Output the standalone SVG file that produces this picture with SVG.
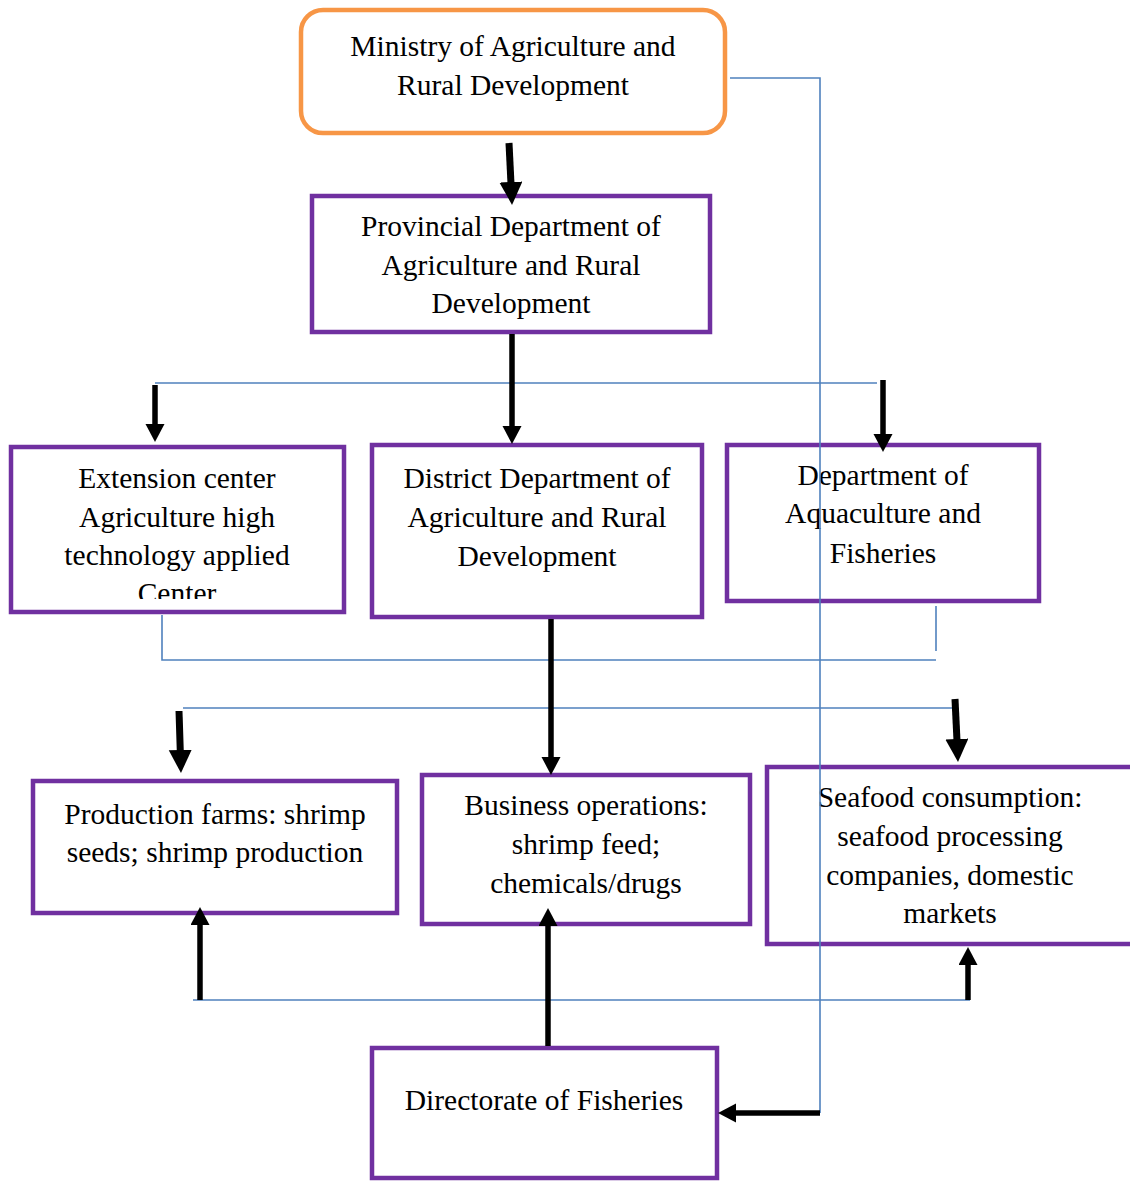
<svg xmlns="http://www.w3.org/2000/svg" width="1130" height="1182" viewBox="0 0 1130 1182">
<style>
.box{fill:none;stroke:#7030A0;stroke-width:4.5}
.min{fill:none;stroke:#F79646;stroke-width:4.5}
.t{font-family:"Liberation Serif","Times New Roman",serif;font-size:29.5px;fill:#000;text-anchor:middle}
.blue{fill:none;stroke:#4F81BD;stroke-width:1.6}
.arr{fill:none;stroke:#000;stroke-width:5.5;marker-end:url(#ah)}
.arrL{fill:none;stroke:#000;stroke-width:7;marker-end:url(#ahL)}
</style>
<defs>
<marker id="ah" markerUnits="userSpaceOnUse" markerWidth="20" markerHeight="20" refX="6" refY="9.5" orient="auto" viewBox="0 0 20 20">
<path d="M0,0 L18,9.5 L0,19 Z" fill="#000"/>
</marker>
<marker id="ahL" markerUnits="userSpaceOnUse" markerWidth="24" markerHeight="24" refX="8" refY="11.5" orient="auto" viewBox="0 0 24 24">
<path d="M0,0 L23,11.5 L0,23 Z" fill="#000"/>
</marker>
<clipPath id="cExt"><rect x="10" y="446" width="335" height="153"/></clipPath>
</defs>
<rect width="1130" height="1182" fill="#fff"/>
<g id="ministry">
<rect class="min" x="301" y="10" width="424" height="123" rx="22"/>
<text class="t" x="513" y="56">Ministry of Agriculture and</text>
<text class="t" x="513" y="95">Rural Development</text>
</g>
<g id="provincial">
<rect class="box" x="312" y="196" width="398" height="136"/>
<text class="t" x="511" y="236">Provincial Department of</text>
<text class="t" x="511" y="275">Agriculture and Rural</text>
<text class="t" x="511" y="313">Development</text>
</g>
<g id="extension">
<rect class="box" x="11" y="447" width="333" height="165"/>
<g clip-path="url(#cExt)">
<text class="t" x="177" y="488">Extension center</text>
<text class="t" x="177" y="527">Agriculture high</text>
<text class="t" x="177" y="565">technology applied</text>
<text class="t" x="177" y="603">Center</text>
</g>
</g>
<g id="district">
<rect class="box" x="372" y="445" width="330" height="172"/>
<text class="t" x="537" y="488">District Department of</text>
<text class="t" x="537" y="527">Agriculture and Rural</text>
<text class="t" x="537" y="566">Development</text>
</g>
<g id="aquaculture">
<rect class="box" x="727" y="445" width="312" height="156"/>
<text class="t" x="883" y="485">Department of</text>
<text class="t" x="883" y="523">Aquaculture and</text>
<text class="t" x="883" y="563">Fisheries</text>
</g>
<g id="production">
<rect class="box" x="33" y="781" width="364" height="132"/>
<text class="t" x="215" y="824">Production farms: shrimp</text>
<text class="t" x="215" y="862">seeds; shrimp production</text>
</g>
<g id="business">
<rect class="box" x="422" y="775" width="328" height="149"/>
<text class="t" x="586" y="815">Business operations:</text>
<text class="t" x="586" y="854">shrimp feed;</text>
<text class="t" x="586" y="893">chemicals/drugs</text>
</g>
<g id="seafood">
<rect class="box" x="767" y="767" width="380" height="177"/>
<text class="t" x="950" y="807">Seafood consumption:</text>
<text class="t" x="950" y="846">seafood processing</text>
<text class="t" x="950" y="885">companies, domestic</text>
<text class="t" x="950" y="923">markets</text>
</g>
<g id="directorate">
<rect class="box" x="372" y="1048" width="345" height="130"/>
<text class="t" x="544" y="1110">Directorate of Fisheries</text>
</g>
<g id="connectors">
<polyline class="blue" points="730,78 820,78 820,1113"/>
<line class="blue" x1="155" y1="383" x2="877" y2="383"/>
<polyline class="blue" points="162,615 162,660 936,660"/>
<line class="blue" x1="936" y1="606" x2="936" y2="651"/>
<line class="blue" x1="183" y1="708" x2="958" y2="708"/>
<line class="blue" x1="193" y1="1000" x2="970" y2="1000"/>
<line class="arrL" x1="509" y1="143" x2="511.3" y2="190"/>
<line class="arr" x1="512" y1="334" x2="512" y2="432"/>
<line class="arr" x1="155" y1="385" x2="155" y2="430"/>
<line class="arr" x1="883" y1="380" x2="883" y2="440"/>
<line class="arr" x1="551" y1="619" x2="551" y2="763"/>
<line class="arrL" x1="179" y1="711" x2="180.5" y2="758"/>
<line class="arrL" x1="955" y1="699" x2="957.3" y2="747"/>
<line class="arr" x1="200" y1="1000" x2="200" y2="919"/>
<line class="arr" x1="548" y1="1046" x2="548" y2="920"/>
<line class="arr" x1="968" y1="1000" x2="968" y2="959"/>
<line class="arr" x1="820" y1="1113" x2="730" y2="1113"/>
</g>
</svg>
